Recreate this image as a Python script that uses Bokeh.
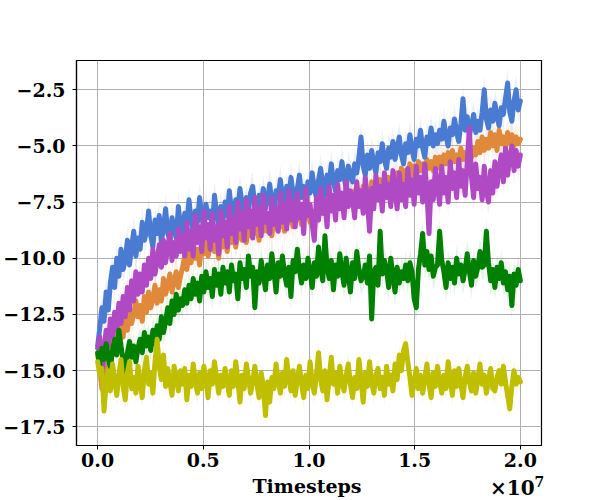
import numpy as np
from bokeh.plotting import figure
from bokeh.models import Range1d, FixedTicker, ColumnDataSource, Div
from bokeh.layouts import column
from bokeh.embed import file_html
from bokeh.resources import INLINE

# ---------------- data ----------------
n_points = 200
timesteps = np.linspace(0, 2e7, n_points)

blue_vals = [
    -13.9, -13.1, -12.2, -12.8, -11.5, -12.3, -11.1, -10.4, -11.3, -10.0, -10.8, -9.6, -10.5, -10.1, -9.2, -10.3, -9.5, -8.8, -9.9, -9.1,
    -9.6, -8.4, -9.2, -8.8, -7.9, -9.0, -9.5, -8.3, -8.9, -8.1, -9.3, -8.6, -7.8, -8.9, -9.2, -8.2, -8.7, -9.1, -7.7, -8.6,
    -8.9, -8.0, -8.5, -7.4, -8.3, -8.8, -7.9, -8.4, -7.3, -8.1, -8.7, -7.6, -8.2, -7.9, -8.6, -7.2, -8.0, -8.5, -7.7, -8.3,
    -7.5, -8.1, -7.0, -7.9, -8.3, -7.4, -7.8, -6.9, -7.6, -8.2, -7.3, -7.9, -7.1, -6.8, -7.7, -8.1, -7.2, -7.6, -6.9, -7.8,
    -7.4, -6.7, -7.5, -7.9, -7.0, -7.3, -6.5, -7.2, -7.7, -6.8, -7.4, -6.4, -7.1, -7.6, -6.9, -6.3, -7.3, -6.8, -7.5, -6.6,
    -7.1, -6.2, -6.9, -7.3, -6.5, -6.0, -6.8, -7.2, -6.3, -6.7, -5.8, -6.6, -7.0, -6.1, -6.5, -5.7, -6.4, -6.9, -5.9, -6.3,
    -6.6, -5.8, -6.2, -5.5, -4.6, -5.9, -6.3, -5.4, -6.0, -5.2, -5.8, -6.2, -5.3, -5.7, -4.9, -5.6, -6.0, -5.1, -5.5, -4.8,
    -5.6, -5.1, -4.6, -5.4, -5.8, -4.9, -5.3, -4.5, -5.2, -5.6, -4.7, -5.0, -4.3, -5.1, -5.5, -4.6, -4.9, -4.2, -5.0, -4.5,
    -4.9, -4.3, -4.7, -3.9, -4.6, -5.0, -4.2, -4.5, -3.8, -4.4, -4.8, -4.0, -2.9, -4.3, -3.7, -4.5, -4.1, -3.6, -4.4, -3.9,
    -4.3, -3.5, -2.5, -3.8, -4.2, -3.4, -3.9, -3.1, -3.7, -4.1, -3.3, -3.6, -2.9, -2.2, -3.5, -3.9, -3.0, -2.5, -3.4, -3.0]

orange_vals = [
    -14.3, -14.9, -15.8, -15.2, -14.4, -13.9, -14.6, -13.5, -14.1, -13.2, -13.8, -12.8, -13.5, -12.6, -13.2, -12.3, -12.9, -12.5, -11.9, -12.6,
    -12.1, -12.8, -11.7, -12.4, -11.5, -12.2, -11.8, -11.2, -12.0, -11.4, -11.9, -10.9, -11.6, -11.2, -10.7, -11.5, -11.0, -10.6, -11.3, -10.8,
    -10.4, -9.9, -10.5, -9.7, -10.2, -9.4, -10.0, -9.6, -10.3, -9.3, -9.8, -9.1, -9.9, -9.5, -9.0, -9.7, -9.2, -10.0, -8.9, -9.5,
    -9.1, -9.7, -8.8, -9.3, -8.6, -9.5, -8.9, -8.4, -9.2, -8.7, -9.3, -8.5, -9.0, -8.3, -8.9, -8.6, -9.2, -8.2, -8.8, -8.4,
    -8.8, -8.3, -9.0, -8.2, -8.7, -8.0, -8.6, -8.3, -8.8, -7.9, -8.4, -8.1, -8.6, -7.8, -8.3, -8.0, -8.5, -7.7, -8.2, -7.9,
    -8.4, -7.9, -8.5, -7.8, -8.2, -6.3, -8.0, -7.6, -8.1, -7.4, -7.8, -7.5, -7.9, -7.2, -7.7, -7.3, -7.6, -7.0, -7.5, -7.1,
    -7.6, -7.0, -7.5, -7.1, -7.4, -6.8, -7.3, -6.9, -7.2, -6.6, -7.1, -6.7, -7.0, -6.5, -6.9, -6.6, -7.0, -6.4, -6.8, -6.5,
    -6.7, -6.2, -6.6, -6.0, -6.5, -6.1, -6.4, -5.8, -6.3, -5.9, -6.2, -5.7, -6.1, -5.8, -6.2, -5.6, -6.0, -5.7, -6.1, -5.5,
    -6.0, -5.5, -5.9, -5.4, -5.8, -5.3, -5.9, -5.2, -5.7, -5.4, -5.8, -5.1, -5.6, -5.3, -5.7, -5.0, -5.5, -5.1, -5.4, -4.8,
    -5.3, -4.6, -5.2, -4.7, -5.1, -4.4, -5.0, -4.5, -5.2, -4.3, -4.9, -4.6, -5.1, -4.4, -4.9, -4.5, -5.0, -4.6, -4.9, -4.7]

purple_vals = [
    -14.0, -13.5, -15.3, -14.1, -13.2, -13.9, -12.7, -13.5, -12.4, -13.2, -12.0, -12.9, -11.7, -12.6, -11.3, -12.3, -11.0, -11.9, -10.6, -11.6,
    -10.7, -11.5, -10.3, -11.2, -10.0, -10.9, -9.6, -10.7, -10.1, -9.4, -10.4, -9.2, -10.2, -9.5, -8.9, -10.1, -9.3, -9.9, -8.7, -9.7,
    -9.0, -9.9, -8.4, -9.6, -8.8, -9.9, -8.1, -9.3, -8.6, -9.7, -7.9, -9.1, -8.5, -9.6, -8.0, -9.2, -8.6, -9.8, -7.9, -9.0,
    -8.4, -9.5, -7.7, -8.9, -8.2, -9.3, -7.5, -8.7, -8.0, -9.2, -7.4, -8.6, -7.9, -9.1, -7.3, -8.5, -7.8, -9.0, -7.2, -8.4,
    -8.0, -8.9, -7.3, -8.5, -7.8, -8.8, -7.1, -8.4, -7.6, -8.7, -7.0, -8.3, -7.5, -8.6, -7.1, -8.2, -7.6, -8.9, -6.9, -8.1,
    -7.6, -8.5, -9.2, -7.3, -8.3, -6.9, -8.0, -7.4, -8.6, -6.8, -7.9, -7.2, -8.3, -6.7, -7.8, -7.1, -8.2, -6.6, -7.7, -7.0,
    -7.4, -8.2, -6.6, -7.7, -7.0, -8.0, -6.4, -7.5, -8.8, -6.9, -7.8, -6.3, -7.4, -6.8, -7.9, -6.2, -7.3, -6.7, -7.7, -6.1,
    -7.0, -7.8, -6.2, -7.4, -6.7, -7.7, -6.0, -7.2, -6.5, -7.6, -5.9, -7.1, -6.4, -7.5, -5.8, -7.0, -8.9, -6.6, -7.4, -6.0,
    -6.8, -7.6, -5.9, -7.1, -6.4, -7.5, -5.7, -6.9, -6.2, -7.3, -5.6, -6.8, -6.1, -7.2, -5.7, -4.2, -6.4, -7.3, -5.8, -6.9,
    -6.4, -7.4, -5.9, -7.0, -7.5, -6.1, -7.1, -5.7, -6.8, -6.0, -5.4, -6.6, -5.1, -6.3, -5.5, -5.0, -6.1, -5.2, -5.9, -5.4]

green_vals = [
    -14.2, -14.7, -14.0, -14.5, -13.8, -14.4, -14.9, -14.1, -13.6, -14.3, -13.2, -13.9, -14.6, -15.1, -14.2, -13.7, -14.4, -13.9, -14.6, -14.0,
    -13.6, -14.2, -13.3, -13.9, -13.5, -14.1, -13.2, -13.8, -13.0, -13.6, -12.6, -13.3, -12.8, -12.2, -12.9, -11.9, -12.5, -11.6, -12.3, -11.8,
    -12.1, -11.4, -12.0, -11.2, -11.8, -10.9, -11.6, -11.1, -11.9, -10.8, -11.5, -10.6, -11.3, -10.9, -11.7, -10.5, -11.2, -10.7, -11.6, -10.4,
    -11.1, -10.6, -11.5, -10.3, -11.0, -10.7, -11.8, -10.2, -10.9, -10.5, -11.3, -9.9, -10.8, -10.4, -12.2, -10.6, -11.1, -10.1, -10.7, -11.4,
    -10.3, -10.9, -9.8, -10.6, -11.5, -10.2, -10.8, -9.9, -10.7, -11.2, -10.4, -11.7, -10.1, -10.6, -9.6, -10.5, -11.1, -10.3, -10.9, -10.0,
    -10.6, -11.3, -10.2, -10.8, -9.5, -10.5, -11.0, -9.0, -10.4, -10.9, -10.1, -11.4, -10.3, -10.8, -9.8, -10.6, -11.2, -10.0, -10.7, -11.5,
    -10.2, -10.9, -9.7, -10.5, -11.0, -10.8, -10.3, -11.1, -9.9, -12.7, -10.6, -10.4, -11.2, -8.8, -10.7, -10.1, -10.5, -11.3, -10.0, -10.8,
    -11.5, -10.4, -11.1, -10.6, -10.9, -10.3, -11.0, -10.2, -10.6, -11.8, -12.2, -10.5, -9.8, -8.9, -10.3, -9.7, -10.5, -9.9, -10.8, -10.4,
    -10.3, -8.8, -10.1, -10.6, -11.3, -10.2, -10.9, -10.4, -11.1, -10.0, -10.7, -10.3, -11.0, -10.5, -9.8, -10.6, -11.2, -10.1, -10.8, -10.4,
    -9.7, -10.4, -10.3, -8.8, -10.2, -11.0, -10.5, -11.3, -10.4, -10.9, -10.2, -11.1, -10.6, -11.4, -10.8, -12.1, -10.7, -11.2, -10.5, -11.0]

yellow_vals = [
    -14.6, -15.2, -14.9, -16.8, -15.6, -15.0, -15.9, -14.7, -15.4, -16.1, -15.2, -14.5, -15.7, -16.3, -15.1, -14.6, -15.8, -15.3, -16.0, -14.8,
    -15.5, -16.2, -15.0, -14.4, -15.6, -15.1, -16.0, -14.6, -13.6, -14.8, -15.4, -14.3, -15.7, -14.9, -15.5, -16.1, -14.8, -15.3, -15.9, -15.0,
    -15.6, -14.9, -16.3, -15.2, -15.7, -14.7, -15.5, -16.0, -15.1, -15.8, -14.8, -15.4, -16.2, -15.0, -15.6, -14.6, -15.3, -16.0, -15.2, -15.7,
    -14.9, -15.5, -16.1, -15.0, -15.7, -14.6, -15.4, -16.4, -15.2, -15.8, -14.7, -15.3, -16.0, -15.5, -14.8, -15.6, -16.2, -15.1, -15.7, -17.0,
    -15.5, -16.4, -15.3, -15.8, -14.7, -15.4, -16.0, -15.1, -15.7, -14.5, -15.3, -15.9, -15.0, -16.1, -15.4, -14.8, -15.6, -16.2, -15.2, -15.8,
    -14.6, -15.5, -16.0, -15.2, -14.2, -15.4, -15.9, -15.0, -16.3, -15.3, -14.4, -15.6, -15.1, -16.0, -14.8, -15.5, -15.9, -15.2, -14.7, -15.6,
    -16.2, -15.3, -15.8, -14.5, -15.4, -16.4, -15.1, -15.7, -14.6, -15.5, -16.0, -15.2, -14.9, -15.8, -15.3, -16.1, -14.8, -15.6, -15.2, -15.9,
    -14.7, -15.4, -14.3, -15.0, -14.1, -13.8, -14.6, -15.3, -16.1, -15.5, -14.9, -15.8, -15.2, -16.0, -15.4, -14.7, -15.6, -16.2, -15.1, -15.7,
    -14.8, -15.5, -16.0, -15.2, -15.8, -14.6, -15.4, -16.1, -15.0, -15.7, -14.9, -15.6, -16.2, -15.3, -14.8, -15.5, -15.9, -15.1, -16.0, -15.4,
    -14.7, -15.6, -15.2, -16.0, -15.4, -14.9, -15.8, -15.9, -15.3, -15.0, -15.6, -14.8, -15.5, -16.1, -16.7, -15.7, -15.0, -15.6, -15.3, -15.5]

# band half-widths (spread over runs) per series
spreads = {"orange": 0.6, "blue": 0.65, "purple": 0.6, "green": 0.6, "yellow": 0.5}

x_tick_values = [0, 0.5e7, 1.0e7, 1.5e7, 2.0e7]
x_tick_labels = ["0.0", "0.5", "1.0", "1.5", "2.0"]
y_tick_values = [-17.5, -15.0, -12.5, -10.0, -7.5, -5.0, -2.5]
y_tick_labels = ["\u221217.5", "\u221215.0", "\u221212.5", "\u221210.0",
                 "\u22127.5", "\u22125.0", "\u22122.5"]
x_label = "Timesteps"
offset_base = "\u00d710"
offset_exp = "7"

# ---------------- styling ----------------
FONT = "DejaVu Serif"
colors = {"orange": "#E0893B", "blue": "#4A7BD2", "purple": "#AF4AC4",
          "green": "#008000", "yellow": "#BFBF00"}
series = [("orange", orange_vals), ("blue", blue_vals), ("purple", purple_vals),
          ("green", green_vals), ("yellow", yellow_vals)]

p = figure(width=600, height=476, output_backend="svg", toolbar_location=None,
           x_range=Range1d(-1e6, 2.1e7), y_range=Range1d(-18.33, -1.2),
           min_border_left=75, min_border_right=59, min_border_top=60,
           min_border_bottom=31)

p.background_fill_color = "white"
p.border_fill_color = "white"
p.outline_line_color = "black"
p.outline_line_width = 1.2

for name, vals in series:
    v = np.array(vals)
    s = spreads[name]
    src = ColumnDataSource(dict(x=timesteps, lo=v - s, hi=v + s))
    p.varea(x="x", y1="lo", y2="hi", source=src, fill_color=colors[name],
            fill_alpha=0.1)

for name, vals in series:
    src = ColumnDataSource(dict(x=timesteps, y=vals))
    p.line(x="x", y="y", source=src, line_color=colors[name], line_width=5,
           line_join="round", line_cap="round")

p.xaxis.ticker = FixedTicker(ticks=x_tick_values)
p.xaxis.major_label_overrides = {v: l for v, l in zip(x_tick_values, x_tick_labels)}
p.yaxis.ticker = FixedTicker(ticks=y_tick_values)
p.yaxis.major_label_overrides = {v: l for v, l in zip(y_tick_values, y_tick_labels)}

for ax in (p.xaxis, p.yaxis):
    ax.major_label_text_font = FONT
    ax.major_label_text_font_style = "bold"
    ax.major_label_text_font_size = "19px"
    ax.major_label_text_color = "black"
    ax.axis_line_color = "black"
    ax.axis_line_width = 1.2
    ax.major_tick_line_color = "black"
    ax.major_tick_out = 4
    ax.major_tick_in = 0
    ax.minor_tick_line_color = None
p.xaxis.major_label_standoff = 3
p.yaxis.major_label_standoff = 7

p.grid.grid_line_color = "#b0b0b0"
p.grid.grid_line_width = 1
p.xgrid.ticker = FixedTicker(ticks=x_tick_values)
p.ygrid.ticker = FixedTicker(ticks=y_tick_values)

# x-axis title row ("Timesteps" centred under the frame, offset text at right)
caption = Div(
    width=600, height=24,
    text=(
        '<div style="position:relative;width:600px;height:24px;'
        "font-family:'DejaVu Serif',serif;font-weight:bold;color:black;"
        'line-height:1;margin:0;padding:0;">'
        '<span style="position:absolute;left:182px;width:240px;top:-4px;'
        'text-align:center;font-size:19px;white-space:nowrap;">'
        + x_label + '</span>'
        '<span style="position:absolute;left:485px;top:-3px;font-size:20px;'
        'white-space:nowrap;">' + offset_base +
        '<span style="position:relative;top:-8px;font-size:14px;">'
        + offset_exp + '</span></span></div>'
    ),
)

layout = column(p, caption, spacing=0)

open("out.html", "w").write(file_html(layout, INLINE))
